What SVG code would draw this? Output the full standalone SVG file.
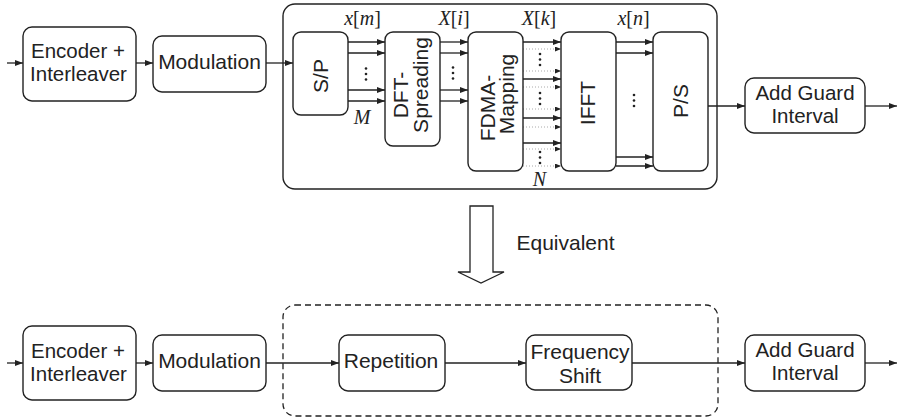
<svg xmlns="http://www.w3.org/2000/svg" width="897" height="419" viewBox="0 0 897 419">
<style>
.box{fill:#fff;stroke:#222;stroke-width:1.4}
.t{font-family:"Liberation Sans",Arial,sans-serif;font-size:21px;fill:#222;text-anchor:middle}
.t2{font-size:20.5px}
.lbl{font-family:"Liberation Serif","Times New Roman",serif;font-size:20px;fill:#222;text-anchor:middle}
.ln{fill:none;stroke:#222;stroke-width:1.3}
.dl{fill:none;stroke:#aaa;stroke-width:1;stroke-dasharray:1 2}
.dot{fill:#222}
</style>
<defs>
<marker id="ah" markerUnits="userSpaceOnUse" markerWidth="8" markerHeight="6" refX="8" refY="3" orient="auto"><path d="M0,0 L8,3 L0,6 z" fill="#222"/></marker>
<marker id="sh" markerUnits="userSpaceOnUse" markerWidth="6" markerHeight="5" refX="6" refY="2.5" orient="auto"><path d="M0,0 L6,2.5 L0,5 z" fill="#222"/></marker>
</defs>
<rect width="897" height="419" fill="#fff"/>

<!-- containers -->
<g id="scfdma-block"><rect x="283" y="4" width="434" height="185" rx="12" class="box"/></g>
<g id="equivalent-block"><rect x="283" y="305" width="435" height="111" rx="12" fill="none" stroke="#222" stroke-width="1.3" stroke-dasharray="6 4"/></g>

<!-- connectors -->
<g id="connectors">
<line x1="7" y1="63" x2="23" y2="63" class="ln" marker-end="url(#ah)"/>
<line x1="136" y1="63" x2="153" y2="63" class="ln" marker-end="url(#ah)"/>
<line x1="266" y1="63" x2="293" y2="63" class="ln" marker-end="url(#ah)"/>
<line x1="348" y1="42" x2="385" y2="42" class="ln" marker-end="url(#ah)"/>
<line x1="348" y1="53" x2="385" y2="53" class="ln" marker-end="url(#ah)"/>
<line x1="348" y1="90" x2="385" y2="90" class="ln" marker-end="url(#ah)"/>
<line x1="348" y1="101" x2="385" y2="101" class="ln" marker-end="url(#ah)"/>
<line x1="440" y1="42" x2="468" y2="42" class="ln" marker-end="url(#ah)"/>
<line x1="440" y1="53" x2="468" y2="53" class="ln" marker-end="url(#ah)"/>
<line x1="440" y1="90" x2="468" y2="90" class="ln" marker-end="url(#ah)"/>
<line x1="440" y1="101" x2="468" y2="101" class="ln" marker-end="url(#ah)"/>
<line x1="523" y1="42" x2="561" y2="42" class="ln" marker-end="url(#ah)"/>
<line x1="523" y1="79" x2="561" y2="79" class="ln" marker-end="url(#ah)"/>
<line x1="523" y1="118" x2="561" y2="118" class="ln" marker-end="url(#ah)"/>
<line x1="523" y1="143" x2="561" y2="143" class="ln" marker-end="url(#ah)"/>
<line x1="523" y1="49" x2="561" y2="49" class="dl" marker-end="url(#sh)"/>
<line x1="523" y1="71" x2="561" y2="71" class="dl" marker-end="url(#sh)"/>
<line x1="523" y1="87" x2="561" y2="87" class="dl" marker-end="url(#sh)"/>
<line x1="523" y1="109" x2="561" y2="109" class="dl" marker-end="url(#sh)"/>
<line x1="523" y1="127" x2="561" y2="127" class="dl" marker-end="url(#sh)"/>
<line x1="523" y1="149" x2="561" y2="149" class="dl" marker-end="url(#sh)"/>
<line x1="523" y1="166" x2="561" y2="166" class="dl" marker-end="url(#sh)"/>
<line x1="616" y1="42" x2="653" y2="42" class="ln" marker-end="url(#ah)"/>
<line x1="616" y1="53" x2="653" y2="53" class="ln" marker-end="url(#ah)"/>
<line x1="616" y1="157" x2="653" y2="157" class="ln" marker-end="url(#ah)"/>
<line x1="616" y1="166" x2="653" y2="166" class="ln" marker-end="url(#ah)"/>
<line x1="708" y1="106" x2="745" y2="106" class="ln" marker-end="url(#ah)"/>
<line x1="865" y1="106" x2="897" y2="106" class="ln" marker-end="url(#ah)"/>

<line x1="7" y1="363" x2="23" y2="363" class="ln" marker-end="url(#ah)"/>
<line x1="136" y1="363" x2="153" y2="363" class="ln" marker-end="url(#ah)"/>
<line x1="266" y1="363" x2="339" y2="363" class="ln" marker-end="url(#ah)"/>
<line x1="445" y1="363" x2="526" y2="363" class="ln" marker-end="url(#ah)"/>
<line x1="632" y1="363" x2="745" y2="363" class="ln" marker-end="url(#ah)"/>
<line x1="865" y1="363" x2="897" y2="363" class="ln" marker-end="url(#ah)"/>

<polygon points="470,206 493,206 493,272 504,272 481,283 458,272 470,272" fill="#fff" stroke="#222" stroke-width="1.3"/>
</g>

<!-- ellipsis dots -->
<g id="dots">
<circle cx="366" cy="68.5" r="1.3" class="dot"/><circle cx="366" cy="74" r="1.3" class="dot"/><circle cx="366" cy="79.5" r="1.3" class="dot"/>
<circle cx="453" cy="67.5" r="1.3" class="dot"/><circle cx="453" cy="73" r="1.3" class="dot"/><circle cx="453" cy="78.5" r="1.3" class="dot"/>
<circle cx="540" cy="54" r="1.3" class="dot"/><circle cx="540" cy="59.5" r="1.3" class="dot"/><circle cx="540" cy="65" r="1.3" class="dot"/>
<circle cx="540" cy="93" r="1.3" class="dot"/><circle cx="540" cy="98.5" r="1.3" class="dot"/><circle cx="540" cy="104" r="1.3" class="dot"/>
<circle cx="540" cy="152" r="1.3" class="dot"/><circle cx="540" cy="157.5" r="1.3" class="dot"/><circle cx="540" cy="163" r="1.3" class="dot"/>
<circle cx="634" cy="95" r="1.3" class="dot"/><circle cx="634" cy="100.5" r="1.3" class="dot"/><circle cx="634" cy="106" r="1.3" class="dot"/>
</g>

<!-- labels -->
<g id="labels">
<text x="362.5" y="25" class="lbl"><tspan font-style="italic">x</tspan>[<tspan font-style="italic">m</tspan>]</text>
<text x="454" y="25" class="lbl"><tspan font-style="italic">X</tspan>[<tspan font-style="italic">i</tspan>]</text>
<text x="539" y="25" class="lbl"><tspan font-style="italic">X</tspan>[<tspan font-style="italic">k</tspan>]</text>
<text x="633.5" y="25" class="lbl"><tspan font-style="italic">x</tspan>[<tspan font-style="italic">n</tspan>]</text>
<text x="362" y="124" class="lbl" font-size="18" font-style="italic">M</text>
<text x="539.5" y="186" class="lbl" font-size="18" font-style="italic">N</text>
<text x="565.5" y="250" class="t" font-size="20">Equivalent</text>
</g>

<!-- top row nodes -->
<g id="enc1"><rect x="23" y="27" width="113" height="74" rx="9" class="box"/><text x="78" y="58" class="t t2">Encoder +</text><text x="78.5" y="81" class="t t2">Interleaver</text></g>
<g id="mod1"><rect x="153" y="36" width="113" height="56" rx="9" class="box"/><text x="209.5" y="69" class="t">Modulation</text></g>
<g id="sp"><rect x="293" y="32" width="55" height="83" rx="8" class="box"/><text transform="translate(328,76) rotate(-90)" class="t">S/P</text></g>
<g id="dft"><rect x="385" y="32" width="55" height="114" rx="8" class="box"/><text transform="translate(408,95) rotate(-90)" class="t">DFT-</text><text transform="translate(428,85) rotate(-90)" class="t">Spreading</text></g>
<g id="fdma"><rect x="468" y="32" width="55" height="139" rx="8" class="box"/><text transform="translate(495,108) rotate(-90)" class="t" font-size="22">FDMA-</text><text transform="translate(514,94) rotate(-90)" class="t" font-size="22">Mapping</text></g>
<g id="ifft"><rect x="561" y="32" width="55" height="139" rx="8" class="box"/><text transform="translate(595,103) rotate(-90)" class="t">IFFT</text></g>
<g id="ps"><rect x="653" y="32" width="55" height="139" rx="8" class="box"/><text transform="translate(688,101) rotate(-90)" class="t">P/S</text></g>
<g id="guard1"><rect x="745" y="78" width="120" height="55" rx="9" class="box"/><text x="805" y="100" class="t t2">Add Guard</text><text x="805" y="123" class="t t2">Interval</text></g>

<!-- bottom row nodes -->
<g id="enc2"><rect x="23" y="326" width="113" height="74" rx="9" class="box"/><text x="78" y="357.5" class="t t2">Encoder +</text><text x="78.5" y="380.5" class="t t2">Interleaver</text></g>
<g id="mod2"><rect x="153" y="335" width="113" height="56" rx="9" class="box"/><text x="209.5" y="368" class="t">Modulation</text></g>
<g id="rep"><rect x="339" y="335" width="106" height="56" rx="9" class="box"/><text x="391" y="368" class="t">Repetition</text></g>
<g id="fshift"><rect x="526" y="335" width="106" height="55" rx="9" class="box"/><text x="580" y="359" class="t">Frequency</text><text x="580" y="383" class="t">Shift</text></g>
<g id="guard2"><rect x="745" y="335" width="120" height="56" rx="9" class="box"/><text x="805" y="357" class="t t2">Add Guard</text><text x="805" y="380" class="t t2">Interval</text></g>
</svg>
